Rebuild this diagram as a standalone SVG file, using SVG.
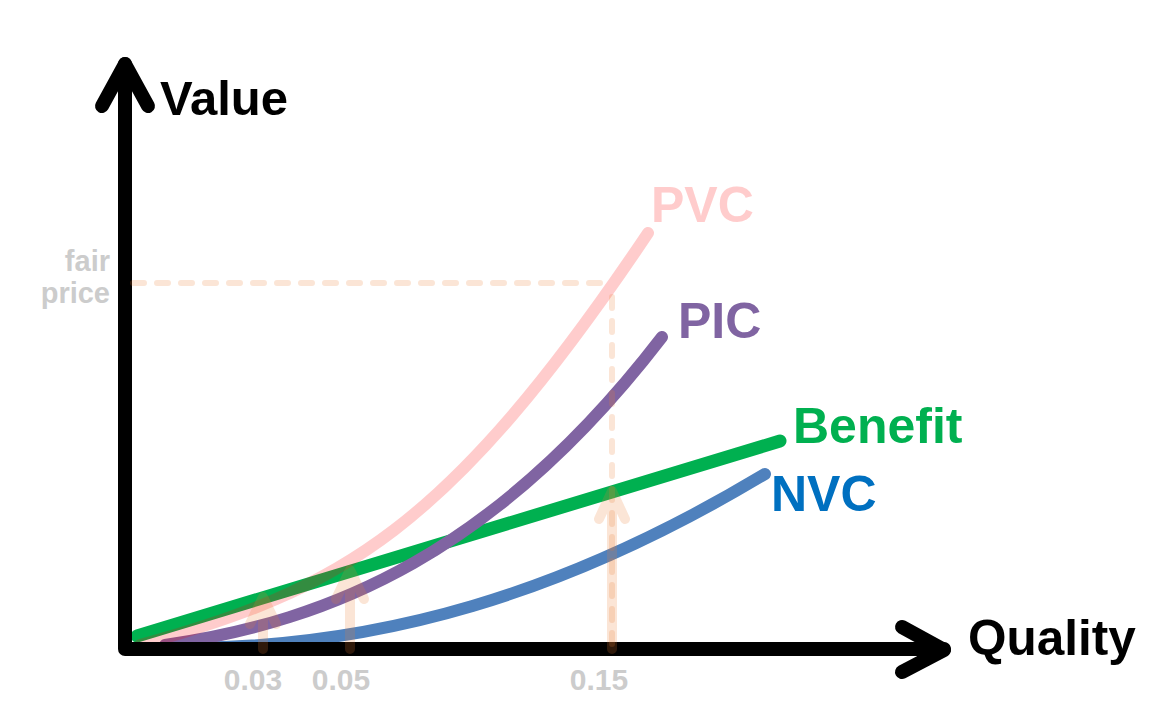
<svg xmlns="http://www.w3.org/2000/svg" width="1170" height="720" viewBox="0 0 1170 720">
  <style>
    .curve { fill: none; stroke-linecap: round; stroke-linejoin: round; }
    .axis { fill: none; stroke: #000; stroke-width: 14; stroke-linecap: round; stroke-linejoin: round; }
    .guide { fill: none; stroke: #ED7D31; stroke-opacity: 0.2; stroke-linecap: round; stroke-linejoin: round; }
    .lbl { font-family: "Liberation Sans", Arial, sans-serif; font-weight: bold; }
    .grey { fill: #CCCCCC; }
  </style>
  <rect width="1170" height="720" fill="#ffffff"/>

  <g id="connectors">
    <g id="curve-nvc"><path class="curve" stroke="#4F81BD" stroke-width="12" d="M180,648 C380,648 565,594 765,474"/></g>
    <g id="curve-benefit"><path class="curve" stroke="#00B050" stroke-width="13" d="M137,636 L780,441"/></g>
    <g id="curve-pic"><path class="curve" stroke="#8064A2" stroke-width="12" d="M165,645 C331,621 496,553 662,337"/></g>
    <g id="curve-pvc"><path class="curve" stroke="#FF0000" stroke-opacity="0.2" stroke-width="12" d="M140,645 C340,590 448,531 648,233"/></g>
  </g>

  <g id="axes">
    <path class="axis" d="M125,64 L125,649 L944,649"/>
    <path class="axis" d="M102,106 L125,64 L148,106"/>
    <path class="axis" d="M902,627 L944,650 L902,672"/>
  </g>

  <g id="guides">
    <path class="guide" stroke-width="6" stroke-dasharray="11 13" d="M133,283 L602,283"/>
    <path class="guide" stroke-width="6" stroke-dasharray="11 13" d="M612,297 L612,649"/>
    <g id="arrow-003"><path class="guide" stroke-width="10" d="M263,649 L263,597 M250,624 L263,597 L276,624"/></g>
    <g id="arrow-005"><path class="guide" stroke-width="10" d="M350,649 L350,570 M336,599 L350,570 L364,599"/></g>
    <g id="arrow-015"><path class="guide" stroke-width="10" d="M612,649 L612,491 M599,519 L612,491 L625,519"/></g>
  </g>

  <g id="labels">
    <g id="label-value"><text class="lbl" x="160" y="115" font-size="49" fill="#000">Value</text></g>
    <g id="label-quality"><text class="lbl" x="968" y="655" font-size="49.5" fill="#000">Quality</text></g>
    <g id="label-pvc"><text class="lbl" x="651" y="222" font-size="50" fill="#FFCCCC">PVC</text></g>
    <g id="label-pic"><text class="lbl" x="678" y="338" font-size="50" fill="#8064A2">PIC</text></g>
    <g id="label-benefit"><text class="lbl" x="793" y="443" font-size="50" fill="#00B050">Benefit</text></g>
    <g id="label-nvc"><text class="lbl" x="771" y="511" font-size="50" fill="#0070C0">NVC</text></g>
    <g id="label-fairprice">
      <text class="lbl grey" x="110" y="271" font-size="29" text-anchor="end">fair</text>
      <text class="lbl grey" x="110" y="303" font-size="29" text-anchor="end">price</text>
    </g>
    <g id="label-ticks">
      <text class="lbl grey" x="253" y="690" font-size="30" text-anchor="middle">0.03</text>
      <text class="lbl grey" x="341" y="690" font-size="30" text-anchor="middle">0.05</text>
      <text class="lbl grey" x="599" y="690" font-size="30" text-anchor="middle">0.15</text>
    </g>
  </g>
</svg>
